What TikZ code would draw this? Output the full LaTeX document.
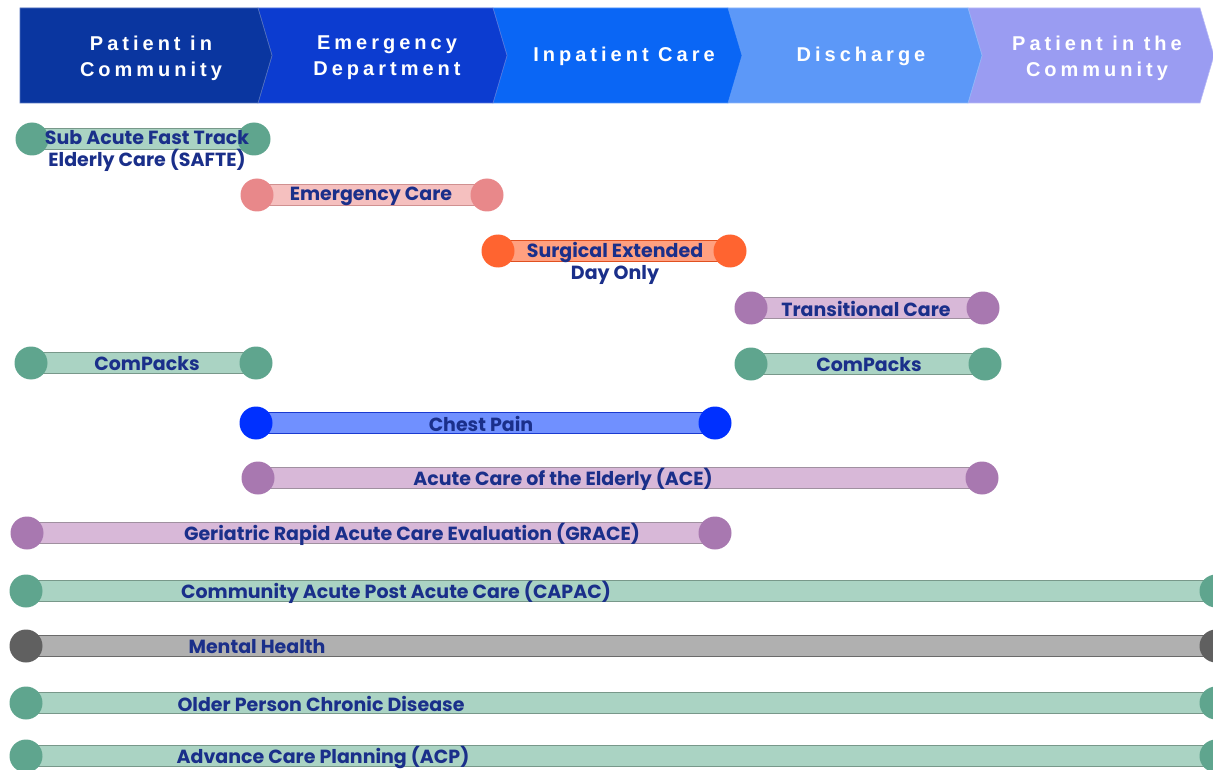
\documentclass[tikz,border=0pt]{standalone}
\usepackage{fontspec}
\setmainfont{Poppins}
\newfontfamily\hdrfont[LetterSpace=20]{Liberation Sans}
\usetikzlibrary{backgrounds}
\definecolor{segA}{HTML}{0A36A0}
\definecolor{segB}{HTML}{0C3CD0}
\definecolor{segC}{HTML}{0A66F5}
\definecolor{segD}{HTML}{5C98F8}
\definecolor{segE}{HTML}{9A9CF2}
\definecolor{navy}{HTML}{1A2F8A}
\definecolor{grC}{HTML}{5FA58E}\definecolor{grF}{HTML}{AAD3C3}\definecolor{grB}{HTML}{78988A}
\definecolor{pkC}{HTML}{E8888A}\definecolor{pkF}{HTML}{F5C0BF}\definecolor{pkB}{HTML}{D09090}
\definecolor{orC}{HTML}{FF6430}\definecolor{orF}{HTML}{FFA080}\definecolor{orB}{HTML}{E05020}
\definecolor{puC}{HTML}{A878B0}\definecolor{puF}{HTML}{D8B8D8}\definecolor{puB}{HTML}{A090A0}
\definecolor{blC}{HTML}{0030FF}\definecolor{blF}{HTML}{7090FF}\definecolor{blB}{HTML}{1A3AD0}
\definecolor{gyC}{HTML}{606060}\definecolor{gyF}{HTML}{B0B0B0}\definecolor{gyB}{HTML}{6A6A6A}
\tikzset{
  dot/.style={circle, minimum size=33pt, inner sep=0pt, fill=#1},
  lbl/.style={font=\bfseries\fontsize{19}{22}\selectfont, text=navy, align=center, inner sep=0pt},
  hdr/.style={font=\hdrfont\bfseries\fontsize{20}{26}\selectfont, text=white, align=center, inner sep=0pt},
  seg/.style={fill=#1, draw=#1!70!white, line width=0.6pt},
}
% bar between two named dots: name-a, name-b, border colour, fill colour
\newcommand\trackbar[4]{%
  \begin{pgfonlayer}{background}
    \draw[line width=22pt, draw=#3] (#1.center) -- (#2.center);
    \draw[line width=19.5pt, draw=#4] (#1.center) -- (#2.center);
  \end{pgfonlayer}}
\begin{document}
\begin{tikzpicture}[x=1pt,y=-1pt]
\useasboundingbox (0,0) rectangle (1213,770);
\clip (0,0) rectangle (1213,770);
% header chevrons
\path[seg=segE] (968,8) -- (1200,8) -- (1214,55.5) -- (1200,103) -- (968,103) -- (982,55.5) -- cycle;
\path[seg=segD] (728,8) -- (968,8) -- (982,55.5) -- (968,103) -- (728,103) -- (742,55.5) -- cycle;
\path[seg=segC] (493,8) -- (728,8) -- (742,55.5) -- (728,103) -- (493,103) -- (507,55.5) -- cycle;
\path[seg=segB] (258,8) -- (493,8) -- (507,55.5) -- (493,103) -- (258,103) -- (272,55.5) -- cycle;
\path[seg=segA] (20,8) -- (258,8) -- (272,55.5) -- (258,103) -- (20,103) -- cycle;
\node[hdr] (h1) at (151,58) {Patient in\\Community};
\node[hdr] (h2) at (387,58) {Emergency\\Department};
\node[hdr] (h3) at (624,56) {Inpatient Care};
\node[hdr] (h4) at (861,56) {Discharge};
\node[hdr] (h5) at (1097,58) {Patient in the\\Community};
% rows
\node[dot=grC] (s1) at (32,139) {};
\node[dot=grC] (s2) at (254,139) {};
\trackbar{s1}{s2}{grB}{grF}
\node[lbl] (sl) at (147,151) {Sub Acute Fast Track\\Elderly Care (SAFTE)};

\node[dot=pkC] (e1) at (257,195) {};
\node[dot=pkC] (e2) at (487,195) {};
\trackbar{e1}{e2}{pkB}{pkF}
\node[lbl] (el) at (371,196) {Emergency Care};

\node[dot=orC] (g1) at (498,251) {};
\node[dot=orC] (g2) at (730,251) {};
\trackbar{g1}{g2}{orB}{orF}
\node[lbl] (gl) at (615,263) {Surgical Extended\\Day Only};

\node[dot=puC] (t1) at (751,308) {};
\node[dot=puC] (t2) at (983,308) {};
\trackbar{t1}{t2}{puB}{puF}
\node[lbl] (tl) at (866,309) {Transitional Care};

\node[dot=grC] (c1) at (31,363) {};
\node[dot=grC] (c2) at (256,363) {};
\trackbar{c1}{c2}{grB}{grF}
\node[lbl] (cl) at (147,364) {ComPacks};

\node[dot=grC] (d1) at (751,364) {};
\node[dot=grC] (d2) at (985,364) {};
\trackbar{d1}{d2}{grB}{grF}
\node[lbl] (dl) at (869,365) {ComPacks};

\node[dot=blC] (p1) at (256,423) {};
\node[dot=blC] (p2) at (715,423) {};
\trackbar{p1}{p2}{blB}{blF}
\node[lbl] (pl) at (481,424) {Chest Pain};

\node[dot=puC] (a1) at (258,478) {};
\node[dot=puC] (a2) at (982,478) {};
\trackbar{a1}{a2}{puB}{puF}
\node[lbl] (al) at (563,479) {Acute Care of the Elderly (ACE)};

\node[dot=puC] (r1) at (27,533) {};
\node[dot=puC] (r2) at (715,533) {};
\trackbar{r1}{r2}{puB}{puF}
\node[lbl] (rl) at (412,534) {Geriatric Rapid Acute Care Evaluation (GRACE)};

\node[dot=grC] (k1) at (26,591) {};
\node[dot=grC] (k2) at (1216,591) {};
\trackbar{k1}{k2}{grB}{grF}
\node[lbl] (kl) at (396,592) {Community Acute Post Acute Care (CAPAC)};

\node[dot=gyC] (m1) at (26,646) {};
\node[dot=gyC] (m2) at (1216,646) {};
\trackbar{m1}{m2}{gyB}{gyF}
\node[lbl] (ml) at (257,647) {Mental Health};

\node[dot=grC] (o1) at (26,703) {};
\node[dot=grC] (o2) at (1216,703) {};
\trackbar{o1}{o2}{grB}{grF}
\node[lbl] (ol) at (321,704) {Older Person Chronic Disease};

\node[dot=grC] (q1) at (26,756) {};
\node[dot=grC] (q2) at (1216,756) {};
\trackbar{q1}{q2}{grB}{grF}
\node[lbl] (ql) at (323,757) {Advance Care Planning (ACP)};
\end{tikzpicture}
\end{document}
